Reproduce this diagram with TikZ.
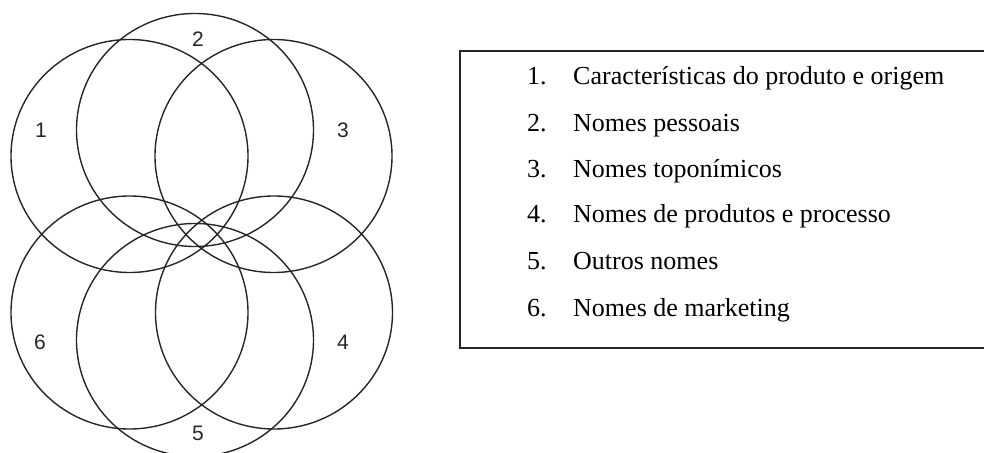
\documentclass[tikz,border=0pt]{standalone}
\usepackage{fontspec}
\setmainfont{Liberation Serif}
\newfontfamily\labelfont{Liberation Sans}
\usetikzlibrary{positioning}

\tikzset{
  ring/.style={draw=black!85, line width=1.4pt},
  numlabel/.style={font=\labelfont\fontsize{21}{24}\selectfont, text=black!85, inner sep=0pt},
  legendbox/.style={draw=black!85, line width=1.6pt},
  legenditem/.style={font=\fontsize{26}{30}\selectfont, anchor=base west, inner sep=0pt}
}

\begin{document}
\begin{tikzpicture}[x=1pt,y=1pt]
  \useasboundingbox (0,0) rectangle (984,452);
  % overlapping circles
  \draw[ring] (129.5,296) ellipse [x radius=118.5, y radius=116.5];
  \draw[ring] (195,322) ellipse [x radius=118.5, y radius=116.5];
  \draw[ring] (273.5,296) ellipse [x radius=118.5, y radius=116.5];
  \draw[ring] (274,139.5) ellipse [x radius=118.5, y radius=116.5];
  \draw[ring] (195,112) ellipse [x radius=118.5, y radius=116.5];
  \draw[ring] (129.5,139.5) ellipse [x radius=118.5, y radius=116.5];
  % circle numbers
  \node[numlabel] (n1) at (41,322) {1};
  \node[numlabel] (n2) at (198,413) {2};
  \node[numlabel] (n3) at (343,322) {3};
  \node[numlabel] (n4) at (343,110) {4};
  \node[numlabel] (n5) at (198,19) {5};
  \node[numlabel] (n6) at (40,110) {6};
  % legend
  \draw[legendbox] (460,104) rectangle (995,401);
  \foreach \i/\y/\txt in {1/367/Características do produto e origem,
                          2/320/Nomes pessoais,
                          3/274/Nomes toponímicos,
                          4/229/Nomes de produtos e processo,
                          5/182/Outros nomes,
                          6/135/Nomes de marketing}{
    \node[legenditem] (num\i) at (527,\y) {\i.};
    \node[legenditem] (item\i) at (573,\y) {\txt};
  }
\end{tikzpicture}
\end{document}
